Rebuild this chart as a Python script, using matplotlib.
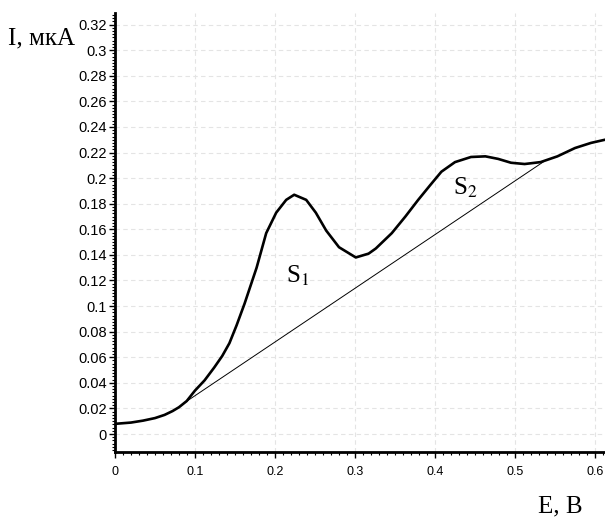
import matplotlib
matplotlib.use("Agg")
import matplotlib.pyplot as plt
from matplotlib.ticker import MultipleLocator, FuncFormatter

# Voltammetric curve (E, V ; I, uA)
E = [0.0, 0.02, 0.035, 0.05, 0.062, 0.072, 0.08, 0.0896, 0.1, 0.112, 0.124, 0.134, 0.143,
     0.152, 0.162, 0.177, 0.189, 0.2015, 0.214, 0.224, 0.239, 0.251, 0.264, 0.280,
     0.301, 0.317, 0.326, 0.346, 0.363, 0.379, 0.394, 0.408, 0.425, 0.445,
     0.463, 0.479, 0.495, 0.512, 0.532, 0.553, 0.575, 0.595, 0.609, 0.62]
I = [0.008, 0.009, 0.0105, 0.0125, 0.015, 0.018, 0.021, 0.0258, 0.034, 0.042, 0.052, 0.061, 0.071,
     0.085, 0.102, 0.130, 0.157, 0.173, 0.183, 0.187, 0.183, 0.173, 0.159, 0.146,
     0.138, 0.141, 0.145, 0.157, 0.170, 0.183, 0.1945, 0.205, 0.2125, 0.2165,
     0.217, 0.215, 0.212, 0.211, 0.2125, 0.217, 0.2235, 0.2275, 0.2295, 0.231]

# Baseline (tangent)
base_E = [0.085, 0.535]
base_I = [0.0237, 0.2125]

xticks = [0, 0.1, 0.2, 0.3, 0.4, 0.5, 0.6]
yticks = [round(0.02 * k, 2) for k in range(17)]

fig = plt.figure(figsize=(6.05, 5.18), dpi=100)
ax = fig.add_axes([115/605, 66/518, 1 - 115/605, (452-13)/518])

ax.plot(E, I, color="black", lw=1.9, solid_joinstyle="round")
ax.plot(base_E, base_I, color="black", lw=0.7)

ax.set_xlim(0, 0.6125)
ax.set_ylim(-0.014, 0.329)
ax.set_xticks(xticks)
ax.set_yticks(yticks)
ax.xaxis.set_minor_locator(MultipleLocator(0.01))
ax.yaxis.set_minor_locator(MultipleLocator(0.0025))
fmt = FuncFormatter(lambda v, p: ("%g" % round(v, 2)))
ax.xaxis.set_major_formatter(fmt)
ax.yaxis.set_major_formatter(fmt)

for s in ("top", "right"):
    ax.spines[s].set_visible(False)
for s in ("left", "bottom"):
    ax.spines[s].set_linewidth(2.0)

ax.tick_params(which="major", direction="out", length=4, width=1.0, pad=2)
ax.tick_params(axis="y", labelsize=10.5)
ax.tick_params(axis="x", labelsize=9, pad=6)
ax.tick_params(which="minor", direction="out", length=2.5, width=0.8)
for lab in ax.get_xticklabels() + ax.get_yticklabels():
    lab.set_fontfamily("Liberation Sans")

ax.grid(True, which="major", color="#e4e4e4", linestyle=(0, (4, 3)), lw=0.8)
ax.set_axisbelow(True)

fig.text(8/605, 1 - 38/518, "I, мкА", family="Liberation Serif", fontsize=18, va="center", ha="left")
fig.text(538/605, 1 - 506/518, "E, B", family="Liberation Serif", fontsize=18, va="center", ha="left")
ax.text(0.214, 0.118, "S$_1$", family="Liberation Serif", fontsize=18, math_fontfamily="stix",
        ha="left", va="baseline")
ax.text(0.423, 0.187, "S$_2$", family="Liberation Serif", fontsize=18, math_fontfamily="stix",
        ha="left", va="baseline")

fig.savefig("out.png", dpi=100)
